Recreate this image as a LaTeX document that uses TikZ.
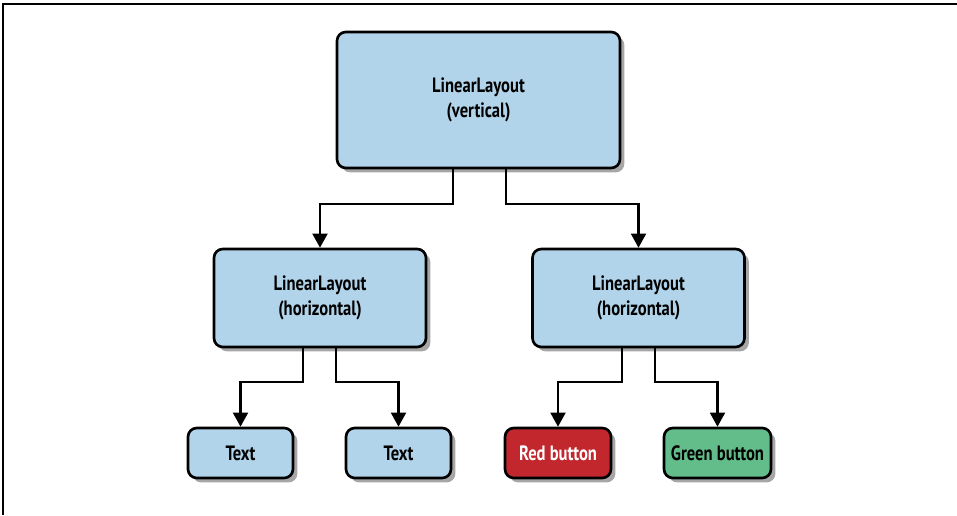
\documentclass[tikz,border=0pt]{standalone}
\usepackage{fontspec}
\setmainfont[FakeStretch=0.80]{PT Sans}
\usetikzlibrary{arrows.meta,shadows}
\definecolor{boxblue}{HTML}{B1D4EA}
\definecolor{btnred}{HTML}{C1272D}
\definecolor{btngreen}{HTML}{63BD8A}
\tikzset{
  layoutbox/.style={draw=black, line width=1.5pt, rounded corners=5pt, fill=boxblue,
    align=center, inner sep=0pt,
    drop shadow={shadow xshift=2.5pt, shadow yshift=-2.5pt, fill=black, opacity=0.35}},
  link/.style={line width=1.2pt, -{Triangle[length=8pt,width=8.5pt]}}
}
\begin{document}
\begin{tikzpicture}[x=0.02cm,y=-0.02cm,font=\fontsize{11.8}{14.5}\selectfont\bfseries]
\useasboundingbox (0,0) rectangle (957,515);
\draw[line width=1.2pt] (3,515) -- (3,4) -- (957,4);
% boxes
\node[layoutbox, minimum width=5.66cm, minimum height=2.72cm] (root) at (478.5,100) {LinearLayout\\(vertical)};
\node[layoutbox, minimum width=4.24cm, minimum height=1.96cm] (ml) at (320,298) {LinearLayout\\(horizontal)};
\node[layoutbox, minimum width=4.24cm, minimum height=1.96cm] (mr) at (638.5,298) {LinearLayout\\(horizontal)};
\node[layoutbox, minimum width=2.1cm, minimum height=1cm] (t1) at (240.5,453) {Text};
\node[layoutbox, minimum width=2.1cm, minimum height=1cm] (t2) at (398.5,453) {Text};
\node[layoutbox, minimum width=2.12cm, minimum height=1cm, fill=btnred, text=white] (red) at (558,453) {Red button};
\node[layoutbox, minimum width=2.14cm, minimum height=1cm, fill=btngreen] (green) at (717.5,453) {Green button};
% connectors
\coordinate (r1) at (453,168);
\coordinate (r2) at (506,168);
\coordinate (l1) at (303,347);
\coordinate (l2) at (336,347);
\coordinate (m1) at (622,347);
\coordinate (m2) at (655,347);
\draw[link] (r1) -- ++(0,36) -| (ml);
\draw[link] (r2) -- ++(0,36) -| (mr);
\draw[link] (l1) -- ++(0,35) -| (t1);
\draw[link] (l2) -- ++(0,35) -| (t2);
\draw[link] (m1) -- ++(0,35) -| (red);
\draw[link] (m2) -- ++(0,35) -| (green);
\end{tikzpicture}
\end{document}
